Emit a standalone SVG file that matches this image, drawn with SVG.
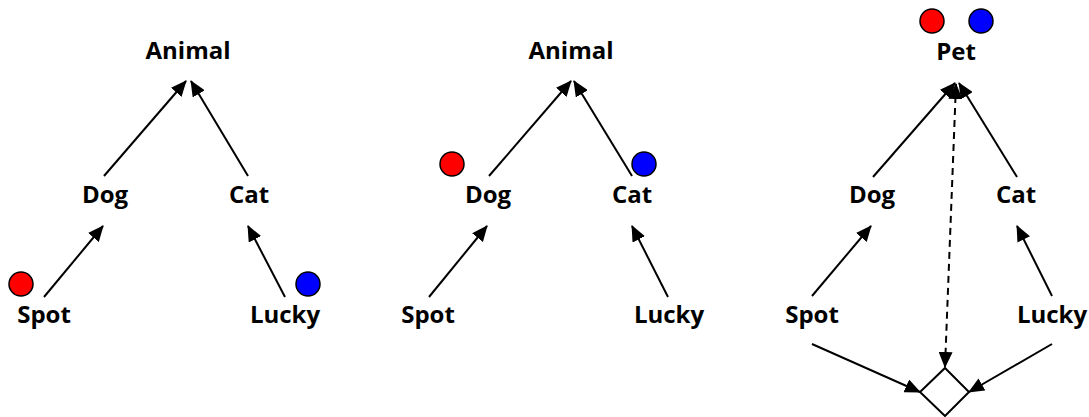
<svg xmlns="http://www.w3.org/2000/svg" width="1089" height="417" viewBox="0 0 1089 417">
<style>
text{font-family:"Open Sans","Liberation Sans",sans-serif;font-weight:bold;font-size:24px;fill:#000;text-anchor:middle}
.e{stroke:#000;stroke-width:2;fill:none;marker-end:url(#ah)}
.d{stroke-dasharray:7,5}
.red{fill:#ff0000;stroke:#000;stroke-width:1.5}
.blue{fill:#0000ff;stroke:#000;stroke-width:1.5}
</style>
<defs>
<marker id="ah" markerUnits="userSpaceOnUse" markerWidth="16" markerHeight="14" refX="15" refY="7" orient="auto">
<path d="M0,0 L16,7 L0,14 Z" fill="#000"/>
</marker>
<marker id="ahs" markerUnits="userSpaceOnUse" markerWidth="16" markerHeight="14" refX="1" refY="7" orient="auto">
<path d="M16,0 L0,7 L16,14 Z" fill="#000"/>
</marker>
</defs>
<rect width="1089" height="417" fill="#fff"/>
<g id="connectors">
<line class="e" x1="104" y1="176" x2="186" y2="81"/>
<line class="e" x1="248" y1="176" x2="191" y2="81"/>
<line class="e" x1="44" y1="297" x2="103" y2="226"/>
<line class="e" x1="285" y1="297" x2="248" y2="226"/>
<line class="e" x1="489" y1="176" x2="571" y2="81"/>
<line class="e" x1="632" y1="176" x2="574" y2="81"/>
<line class="e" x1="429" y1="297" x2="487" y2="226"/>
<line class="e" x1="668" y1="297" x2="632" y2="226"/>
<line class="e" x1="873" y1="177" x2="955" y2="83"/>
<line class="e" x1="1017" y1="177" x2="959" y2="83"/>
<line class="e" x1="812" y1="296" x2="871" y2="226"/>
<line class="e" x1="1052" y1="296" x2="1017" y2="226"/>
<line class="e d" x1="956" y1="84" x2="945" y2="367" marker-start="url(#ahs)"/>
<line class="e" x1="812" y1="344" x2="920" y2="392"/>
<line class="e" x1="1052" y1="344" x2="969" y2="392"/>
</g>
<g id="animal1"><text x="188" y="59">Animal</text></g>
<g id="dog1"><text x="105" y="203">Dog</text></g>
<g id="cat1"><text x="249" y="203">Cat</text></g>
<g id="spot1"><circle class="red" cx="21" cy="284" r="12"/><text x="44" y="323">Spot</text></g>
<g id="lucky1"><circle class="blue" cx="308" cy="284" r="12"/><text x="285" y="323">Lucky</text></g>
<g id="animal2"><text x="571" y="59">Animal</text></g>
<g id="dog2"><circle class="red" cx="452" cy="164" r="12"/><text x="488" y="203">Dog</text></g>
<g id="cat2"><circle class="blue" cx="644" cy="164" r="12"/><text x="632" y="203">Cat</text></g>
<g id="spot2"><text x="428" y="323">Spot</text></g>
<g id="lucky2"><text x="669" y="323">Lucky</text></g>
<g id="pet"><circle class="red" cx="932" cy="21" r="12"/><circle class="blue" cx="981" cy="21" r="12"/><text x="956" y="60">Pet</text></g>
<g id="dog3"><text x="872" y="203">Dog</text></g>
<g id="cat3"><text x="1016" y="203">Cat</text></g>
<g id="spot3"><text x="812" y="323">Spot</text></g>
<g id="lucky3"><text x="1052" y="323">Lucky</text></g>
<g id="diamond"><path d="M945,368 L969,392 L945,416 L920,392 Z" fill="#fff" stroke="#000" stroke-width="2"/></g>
</svg>
